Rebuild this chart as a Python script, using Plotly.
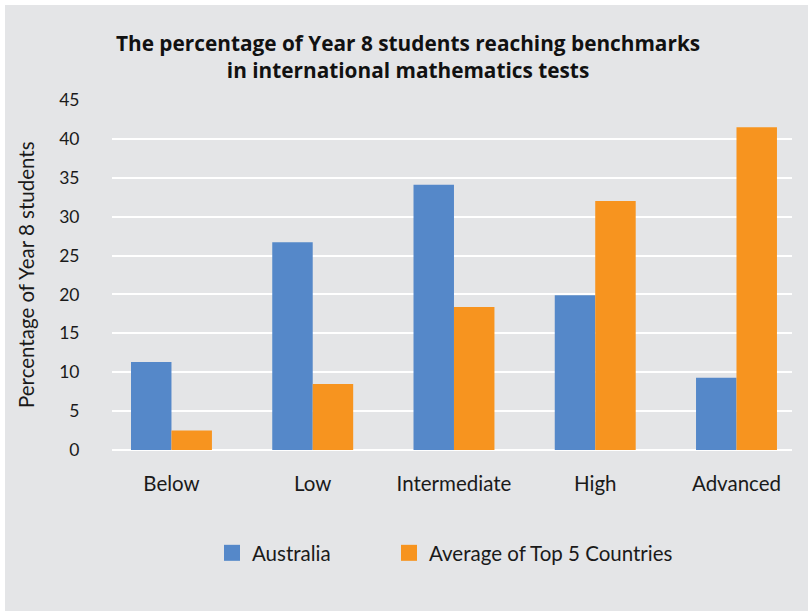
import plotly.graph_objects as go

# Benchmark levels and percentage of Year 8 students at each level
categories = ["Below", "Low", "Intermediate", "High", "Advanced"]
australia = [11.3, 26.7, 34.1, 19.9, 9.3]
top5_average = [2.5, 8.5, 18.4, 32.0, 41.5]
series_names = ["Australia", "Average of Top 5 Countries"]
y_ticks = [0, 5, 10, 15, 20, 25, 30, 35, 40, 45]

BLUE = "#5588C9"
ORANGE = "#F7941F"
BG = "#E4E5E7"
TEXT = "#1a1a1a"
FONT = "Lato, 'Open Sans', sans-serif"
TITLE_FONT = "'Open Sans', Lato, sans-serif"

W, H = 808, 611
L, R, T, B = 112, 16, 100, 161

fig = go.Figure()
fig.add_trace(go.Bar(x=categories, y=australia, name=series_names[0],
                     marker=dict(color=BLUE, line=dict(width=0)), showlegend=False))
fig.add_trace(go.Bar(x=categories, y=top5_average, name=series_names[1],
                     marker=dict(color=ORANGE, line=dict(width=0)), showlegend=False))

# Legend entries with larger square swatches, one legend box per series
for name, col, lg in zip(series_names, [BLUE, ORANGE], ["legend", "legend2"]):
    fig.add_trace(go.Scatter(x=[None], y=[None], mode="markers", name=name, legend=lg,
                             marker=dict(symbol="square", size=19, color=col)))

# Pixel -> paper coordinate helpers
pw, ph = W - L - R, H - T - B
def px_x(v):
    return (v - L) / pw
def px_y(v):
    return 1 - (v - T) / ph

# White strips along the top and left edges of the page
fig.add_shape(type="rect", xref="paper", yref="paper", layer="below",
              x0=px_x(0), x1=px_x(W), y0=px_y(0), y1=px_y(5),
              fillcolor="white", line=dict(width=0))
fig.add_shape(type="rect", xref="paper", yref="paper", layer="below",
              x0=px_x(0), x1=px_x(5), y0=px_y(0), y1=px_y(H),
              fillcolor="white", line=dict(width=0))

fig.add_annotation(text="Percentage of Year 8 students", textangle=-90,
                   xref="paper", yref="paper", x=px_x(26), y=px_y(275),
                   xanchor="center", yanchor="middle",
                   showarrow=False, font=dict(family=FONT, size=20.5, color=TEXT))

legend_common = dict(orientation="h", yanchor="middle", y=px_y(553), xanchor="left",
                     bgcolor="rgba(0,0,0,0)", font=dict(family=FONT, size=20.5, color=TEXT),
                     itemsizing="trace")

fig.update_layout(
    width=W, height=H,
    margin=dict(l=L, r=R, t=T, b=B, pad=0),
    paper_bgcolor=BG, plot_bgcolor=BG,
    barmode="group", bargap=0.427, bargroupgap=0,
    font=dict(family=FONT, size=20.5, color=TEXT),
    title=dict(text="<b>The percentage of Year 8 students reaching benchmarks<br>in international mathematics tests</b>",
               x=0.505, xref="container", xanchor="center",
               y=1 - 51 / H, yref="container", yanchor="middle",
               font=dict(family=TITLE_FONT, size=20.8, color="#111111")),
    xaxis=dict(range=[-0.421, 4.393], showgrid=False, zeroline=False, showline=False,
               ticks="outside", ticklen=15, tickcolor="rgba(0,0,0,0)",
               tickfont=dict(size=20.5)),
    yaxis=dict(range=[0, 45], tickvals=y_ticks, showgrid=True, gridcolor="white",
               gridwidth=1.8, zeroline=True, zerolinecolor="white", zerolinewidth=1.8,
               showline=False, ticks="outside", ticklen=28, tickcolor="rgba(0,0,0,0)",
               tickfont=dict(size=17.5)),
    legend=dict(x=px_x(212), **legend_common),
    legend2=dict(x=px_x(389), **legend_common),
)

fig.write_html("out.html")
